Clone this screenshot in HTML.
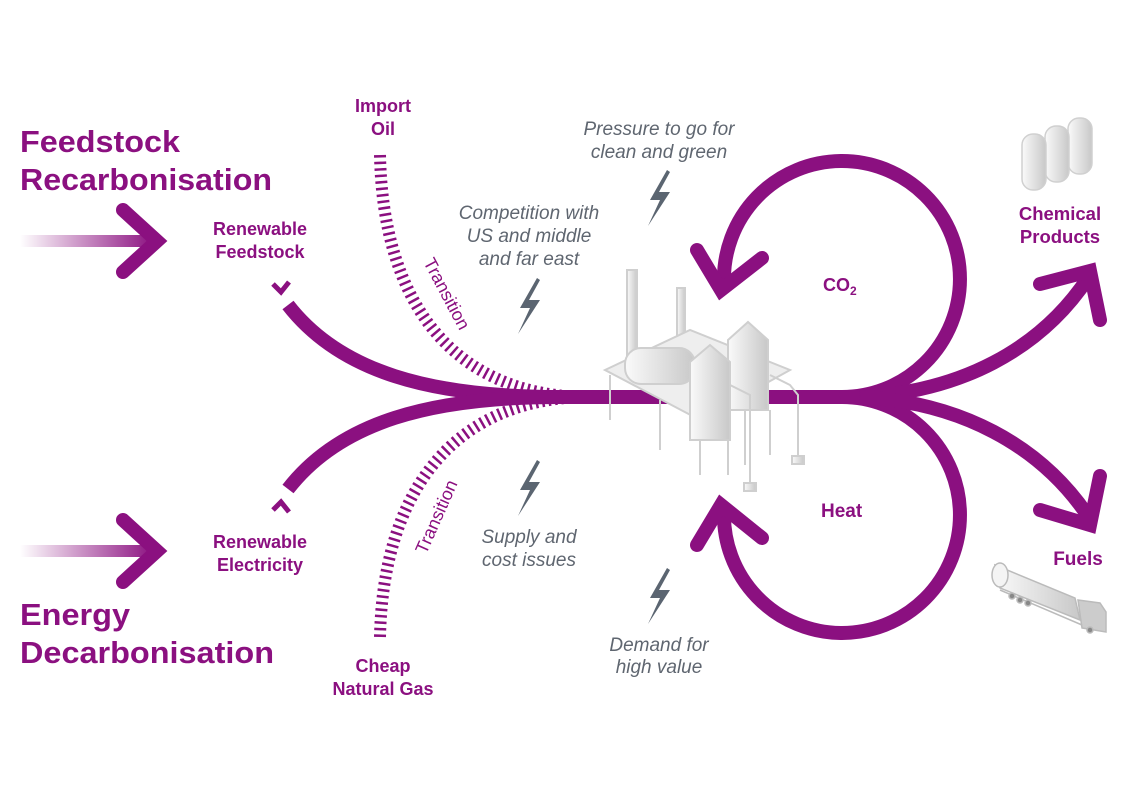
<!DOCTYPE html>
<html><head><meta charset="utf-8"><style>
html,body{margin:0;padding:0;background:#fff}
svg{display:block}
text{font-family:"Liberation Sans",Arial,sans-serif}
.t{fill:#8b1080;font-weight:bold}
.g{fill:#5f6670;font-style:italic;font-size:19px}
</style></head><body>
<svg width="1123" height="794" viewBox="0 0 1123 794" xmlns="http://www.w3.org/2000/svg">
<defs>
<linearGradient id="fade" x1="0" x2="1" y1="0" y2="0">
<stop offset="0" stop-color="#8b1080" stop-opacity="0"/>
<stop offset="1" stop-color="#8b1080" stop-opacity="1"/>
</linearGradient>
<linearGradient id="gr" x1="0" x2="1"><stop offset="0" stop-color="#fafafa"/><stop offset="1" stop-color="#c8c8c8"/></linearGradient>
</defs>

<!-- titles -->
<text class="t" x="20" y="152" font-size="31" textLength="160" lengthAdjust="spacingAndGlyphs">Feedstock</text>
<text class="t" x="20" y="190" font-size="31" textLength="252" lengthAdjust="spacingAndGlyphs">Recarbonisation</text>
<text class="t" x="20" y="625" font-size="31" textLength="110" lengthAdjust="spacingAndGlyphs">Energy</text>
<text class="t" x="20" y="663" font-size="31" textLength="254" lengthAdjust="spacingAndGlyphs">Decarbonisation</text>

<!-- left arrows -->
<rect x="20" y="235" width="135" height="12" fill="url(#fade)"/>
<polyline points="123,210 157,241 123,272" fill="none" stroke="#8b1080" stroke-width="14" stroke-linecap="round" stroke-linejoin="miter"/>
<rect x="20" y="545" width="135" height="12" fill="url(#fade)"/>
<polyline points="123,520 157,551 123,582" fill="none" stroke="#8b1080" stroke-width="14" stroke-linecap="round" stroke-linejoin="miter"/>

<text class="t" font-size="18" text-anchor="middle" x="260" y="235">Renewable</text>
<text class="t" font-size="18" text-anchor="middle" x="260" y="258">Feedstock</text>
<text class="t" font-size="18" text-anchor="middle" x="260" y="548">Renewable</text>
<text class="t" font-size="18" text-anchor="middle" x="260" y="571">Electricity</text>

<text class="t" font-size="18" text-anchor="middle" x="383" y="112">Import</text>
<text class="t" font-size="18" text-anchor="middle" x="383" y="135">Oil</text>
<text class="t" font-size="18" text-anchor="middle" x="383" y="672">Cheap</text>
<text class="t" font-size="18" text-anchor="middle" x="383" y="695">Natural Gas</text>

<!-- hatched transition arcs -->
<path d="M380,155 C383,300 450,392 580,397" fill="none" stroke="#8b1080" stroke-width="12" stroke-dasharray="2.5 4"/>
<path d="M380,637 C383,495 450,402 580,397" fill="none" stroke="#8b1080" stroke-width="12" stroke-dasharray="2.5 4"/>
<text fill="#8b1080" font-size="18" transform="translate(423,262) rotate(62)">Transition</text>
<text fill="#8b1080" font-size="18" transform="translate(426,555) rotate(-66)">Transition</text>

<!-- branches -->
<path d="M288,305 C340,372 430,397 560,397" fill="none" stroke="#8b1080" stroke-width="14"/>
<path d="M288,489 C340,422 430,397 560,397" fill="none" stroke="#8b1080" stroke-width="14"/>
<polyline points="273,284 281,292 289,282" fill="none" stroke="#8b1080" stroke-width="5"/>
<polyline points="273,510 281,502 289,512" fill="none" stroke="#8b1080" stroke-width="5"/>
<line x1="540" y1="397" x2="880" y2="397" stroke="#8b1080" stroke-width="14"/>

<!-- loops -->
<path d="M840,397 A118,118 0 1 0 724,282" fill="none" stroke="#8b1080" stroke-width="14"/>
<polyline points="697,250 721,290 762,258" fill="none" stroke="#8b1080" stroke-width="14" stroke-linecap="round"/>
<path d="M840,397 A118,118 0 1 1 724,512" fill="none" stroke="#8b1080" stroke-width="14"/>
<polyline points="697,545 721,505 762,538" fill="none" stroke="#8b1080" stroke-width="14" stroke-linecap="round"/>

<!-- outputs -->
<path d="M860,397 C960,392 1040,350 1088,278" fill="none" stroke="#8b1080" stroke-width="14"/>
<polyline points="1040,284 1090,271 1100,320" fill="none" stroke="#8b1080" stroke-width="14" stroke-linecap="round"/>
<path d="M860,397 C960,402 1040,445 1088,516" fill="none" stroke="#8b1080" stroke-width="14"/>
<polyline points="1040,510 1090,525 1100,476" fill="none" stroke="#8b1080" stroke-width="14" stroke-linecap="round"/>

<text class="t" font-size="18" x="823" y="291">CO<tspan font-size="12" dy="4">2</tspan></text>
<text class="t" font-size="19" x="821" y="517">Heat</text>
<text class="t" font-size="18.5" text-anchor="middle" x="1060" y="220">Chemical</text>
<text class="t" font-size="18.5" text-anchor="middle" x="1060" y="243">Products</text>
<text class="t" font-size="19" text-anchor="middle" x="1078" y="565">Fuels</text>

<!-- gray texts -->
<text class="g" text-anchor="middle" x="659" y="135">Pressure to go for</text>
<text class="g" text-anchor="middle" x="659" y="158">clean and green</text>
<text class="g" text-anchor="middle" x="529" y="219">Competition with</text>
<text class="g" text-anchor="middle" x="529" y="242">US and middle</text>
<text class="g" text-anchor="middle" x="529" y="265">and far east</text>
<text class="g" text-anchor="middle" x="529" y="543">Supply and</text>
<text class="g" text-anchor="middle" x="529" y="566">cost issues</text>
<text class="g" text-anchor="middle" x="659" y="651">Demand for</text>
<text class="g" text-anchor="middle" x="659" y="673">high value</text>

<!-- bolts -->
<g fill="#5b6571">
<path d="M667,170 L650,200 L660,200 L648,226 L670,192 L659,192 L670,172Z"/>
<path d="M537,278 L520,308 L530,308 L518,334 L540,300 L529,300 L540,280Z"/>
<path d="M537,460 L520,490 L530,490 L518,516 L540,482 L529,482 L540,462Z"/>
<path d="M667,568 L650,598 L660,598 L648,624 L670,590 L659,590 L670,570Z"/>
</g>

<!-- factory -->
<g stroke="#cfcfcf" stroke-width="2" fill="url(#gr)">
<rect x="627" y="270" width="10" height="95"/>
<rect x="677" y="288" width="8" height="60"/>
<path d="M605,370 L690,330 L790,370 L700,420 Z" fill="#eee"/>
<line x1="610" y1="375" x2="610" y2="420"/><line x1="660" y1="400" x2="660" y2="450"/>
<rect x="625" y="348" width="70" height="36" rx="16"/>
<path d="M728,340 L748,322 L768,340 L768,410 L728,410Z"/>
<path d="M690,362 L710,345 L730,362 L730,440 L690,440Z"/>
<line x1="700" y1="440" x2="700" y2="475"/><line x1="728" y1="440" x2="728" y2="475"/>
<line x1="745" y1="410" x2="745" y2="465"/><line x1="770" y1="410" x2="770" y2="455"/>
<path d="M770,375 L790,385 L798,395 L798,460" fill="none"/>
<path d="M730,385 L750,395 L750,488" fill="none"/>
<rect x="744" y="483" width="12" height="8"/><rect x="792" y="456" width="12" height="8"/>
</g>

<!-- tanks -->
<g stroke="#d0d0d0" stroke-width="1.5" fill="url(#gr)">
<rect x="1068" y="118" width="24" height="56" rx="11"/>
<rect x="1045" y="126" width="24" height="56" rx="11"/>
<rect x="1022" y="134" width="24" height="56" rx="11"/>
</g>

<!-- truck -->
<g stroke="#bbb" stroke-width="1.5">
<path d="M995,565 L1075,598 L1080,620 L1000,588 Z" fill="url(#gr)"/>
<ellipse cx="1000" cy="575" rx="8" ry="12" fill="#f4f4f4"/>
<path d="M1078,600 L1100,603 L1106,612 L1106,632 L1082,628 Z" fill="#ccc"/>
<line x1="1000" y1="590" x2="1082" y2="625"/>
<circle cx="1012" cy="596" r="3" fill="#888"/><circle cx="1020" cy="600" r="3" fill="#888"/><circle cx="1028" cy="603" r="3" fill="#888"/>
<circle cx="1090" cy="630" r="3" fill="#888"/>
</g>
</svg>
</body></html>
